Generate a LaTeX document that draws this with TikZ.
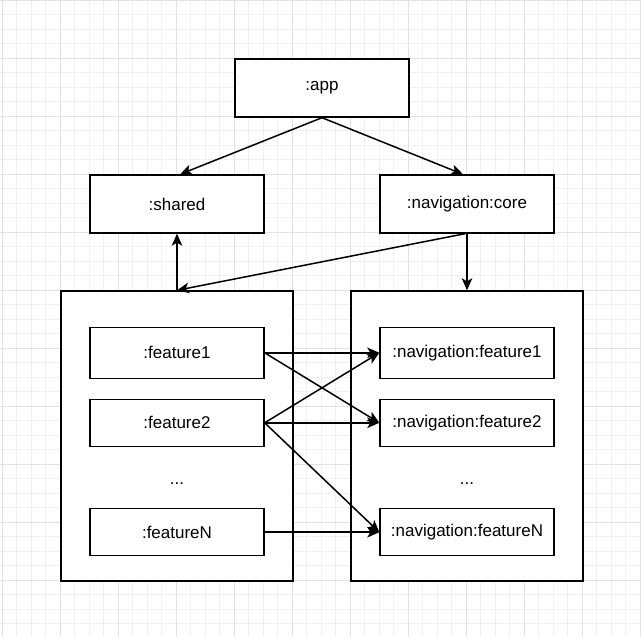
\documentclass[tikz,border=0pt]{standalone}
\usepackage{fontspec}
\setmainfont{Liberation Sans}
\usetikzlibrary{arrows.meta}
\definecolor{minorgrid}{HTML}{F0F0F0}
\definecolor{majorgrid}{HTML}{E2E2E2}
\tikzset{
  minorline/.style={draw=minorgrid, line width=0.8pt},
  majorline/.style={draw=majorgrid, line width=0.8pt},
  box/.style={draw=black, line width=1.4pt, fill=white, inner sep=0pt,
    minimum width=174pt, font=\fontsize{17}{20}\selectfont},
  container/.style={draw=black, line width=1.4pt, fill=white, inner sep=0pt,
    minimum width=232pt, minimum height=290pt},
  dots/.style={inner sep=0pt, anchor=base, font=\fontsize{17}{20}\selectfont},
  conn/.style={draw=black, line width=1.5pt,
    -{Stealth[length=12pt, width=10.5pt, inset=3pt]}}
}
\begin{document}
\begin{tikzpicture}[x=1pt, y=-1pt]
\useasboundingbox (0,0) rectangle (641,637);
\fill[white] (0,0) rectangle (641,637);
% grid
\foreach \i in {0,...,44} \draw[minorline] ({2+14.5*\i},0) -- ({2+14.5*\i},637);
\foreach \i in {0,...,43} \draw[minorline] (0,{14.5*\i}) -- (641,{14.5*\i});
\foreach \i in {0,...,11} \draw[majorline] ({2+58*\i},0) -- ({2+58*\i},637);
\foreach \i in {0,...,10} \draw[majorline] (0,{58*\i}) -- (641,{58*\i});

% top nodes
\node[box, minimum height=58pt] (app) at (322,88) {:app};
\node[box, minimum height=58pt] (shared) at (177,204) {:shared};
\node[box, minimum height=58pt] (navcore) at (467,204) {:navigation:core};

% containers
\node[container] (leftc) at (177,436) {};
\node[container] (rightc) at (467,436) {};

% feature modules
\node[box, minimum height=51pt] (f1) at (177,352.8) {:feature1};
\node[box, minimum height=47pt] (f2) at (177,422.8) {:feature2};
\node[dots] (ldots) at (177,484) {...};
\node[box, minimum height=47pt] (fN) at (177,532.2) {:featureN};

\node[box, minimum height=51pt] (n1) at (467,352.8) {:navigation:feature1};
\node[box, minimum height=47pt] (n2) at (467,422.8) {:navigation:feature2};
\node[dots] (rdots) at (467,484) {...};
\node[box, minimum height=47pt] (nN) at (467,532.2) {:navigation:featureN};

% connectors
\draw[conn] (app.south) -- ([xshift=3pt]shared.north);
\draw[conn] (app.south) -- ([xshift=-4pt]navcore.north);
\draw[conn] (leftc.north) -- (shared.south);
\draw[conn] (navcore.south) -- (rightc.north);
\draw[conn] ([xshift=-2pt]navcore.south) -- (leftc.north);

\draw[conn] (f1.east) -- (n1.west);
\draw[conn] (f1.east) -- (n2.west);
\draw[conn] (f2.east) -- (n1.west);
\draw[conn] (f2.east) -- (n2.west);
\draw[conn] (f2.east) -- (nN.west);
\draw[conn] (fN.east) -- (nN.west);
\end{tikzpicture}
\end{document}
